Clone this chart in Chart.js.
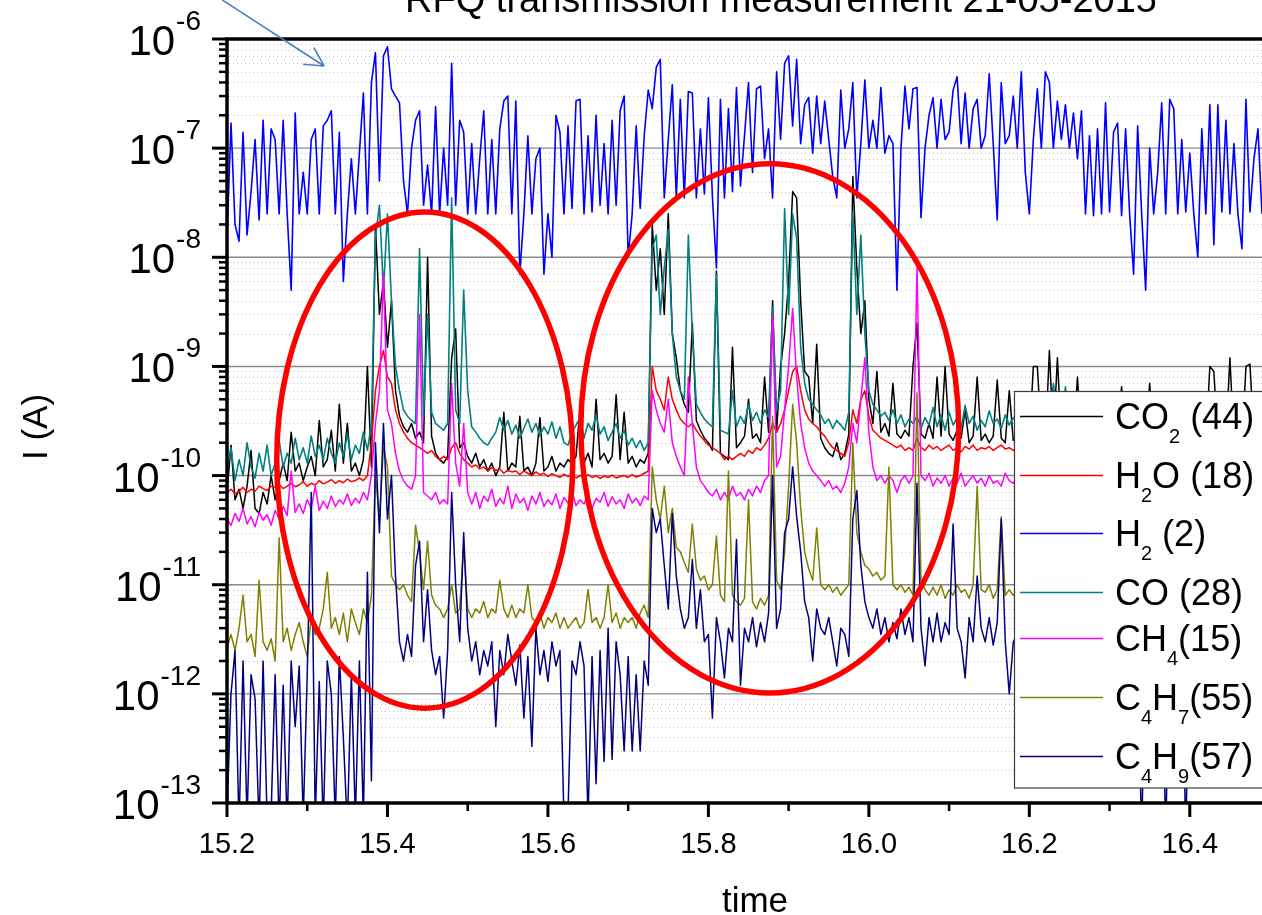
<!DOCTYPE html>
<html><head><meta charset="utf-8">
<script src="https://cdn.jsdelivr.net/npm/chart.js@4.4.1/dist/chart.umd.min.js"></script>
<style>html,body{margin:0;padding:0;background:#fff;overflow:hidden}</style>
</head><body>
<canvas id="c" width="1262" height="915"></canvas>
<script>
const time = [
15.2,15.205,15.21,15.215,15.22,15.225,15.23,15.235,15.24,15.245,
15.25,15.255,15.26,15.265,15.27,15.275,15.28,15.285,15.29,15.295,
15.3,15.305,15.31,15.315,15.32,15.325,15.33,15.335,15.34,15.345,
15.35,15.355,15.36,15.365,15.37,15.375,15.38,15.385,15.39,15.395,
15.4,15.405,15.41,15.415,15.42,15.425,15.43,15.435,15.44,15.445,
15.45,15.455,15.46,15.465,15.47,15.475,15.48,15.485,15.49,15.495,
15.5,15.505,15.51,15.515,15.52,15.525,15.53,15.535,15.54,15.545,
15.55,15.555,15.56,15.565,15.57,15.575,15.58,15.585,15.59,15.595,
15.6,15.605,15.61,15.615,15.62,15.625,15.63,15.635,15.64,15.645,
15.65,15.655,15.66,15.665,15.67,15.675,15.68,15.685,15.69,15.695,
15.7,15.705,15.71,15.715,15.72,15.725,15.73,15.735,15.74,15.745,
15.75,15.755,15.76,15.765,15.77,15.775,15.78,15.785,15.79,15.795,
15.8,15.805,15.81,15.815,15.82,15.825,15.83,15.835,15.84,15.845,
15.85,15.855,15.86,15.865,15.87,15.875,15.88,15.885,15.89,15.895,
15.9,15.905,15.91,15.915,15.92,15.925,15.93,15.935,15.94,15.945,
15.95,15.955,15.96,15.965,15.97,15.975,15.98,15.985,15.99,15.995,
16.0,16.005,16.01,16.015,16.02,16.025,16.03,16.035,16.04,16.045,
16.05,16.055,16.06,16.065,16.07,16.075,16.08,16.085,16.09,16.095,
16.1,16.105,16.11,16.115,16.12,16.125,16.13,16.135,16.14,16.145,
16.15,16.155,16.16,16.165,16.17,16.175,16.18,16.185,16.19,16.195,
16.2,16.205,16.21,16.215,16.22,16.225,16.23,16.235,16.24,16.245,
16.25,16.255,16.26,16.265,16.27,16.275,16.28,16.285,16.29,16.295,
16.3,16.305,16.31,16.315,16.32,16.325,16.33,16.335,16.34,16.345,
16.35,16.355,16.36,16.365,16.37,16.375,16.38,16.385,16.39,16.395,
16.4,16.405,16.41,16.415,16.42,16.425,16.43,16.435,16.44,16.445,
16.45,16.455,16.46,16.465,16.47,16.475,16.48,16.485,16.49
];

const co2 = [
7e-11,1.9e-10,6e-11,7.5e-11,5e-11,8e-11,1.7e-10,5e-11,4.5e-11,7e-11,
5.5e-11,1e-10,6e-11,9e-11,1.3e-10,9e-11,2.5e-10,1.1e-10,1.3e-10,9e-11,
1.2e-10,1.5e-10,1e-10,3.2e-10,1.2e-10,1.4e-10,2.6e-10,1.1e-10,4.5e-10,1.3e-10,
3e-10,1.1e-10,1.3e-10,1e-10,1.4e-10,1e-9,1.2e-10,2e-8,3e-9,6e-9,
1.5e-9,4e-9,6e-10,3.5e-10,2.8e-10,2.5e-10,3e-10,2.2e-10,2.5e-10,2e-10,
1e-8,2.3e-10,1.6e-10,1.4e-10,1.3e-10,1.5e-10,1.2e-9,2.2e-9,1.8e-10,2e-10,
1.5e-10,1.3e-10,1.6e-10,1.2e-10,1.4e-10,1.1e-10,1.3e-10,1e-10,1.2e-10,3.8e-10,
1.1e-10,1.3e-10,1.2e-10,3.5e-10,1.1e-10,1.2e-10,1e-10,1.3e-10,3.4e-10,1.1e-10,
1.2e-10,1.5e-10,1.1e-10,1.3e-10,1.2e-10,1.4e-10,1.3e-10,1.5e-10,4.2e-10,1.3e-10,
1.6e-10,1.2e-10,5e-10,1.4e-10,1.6e-10,1.3e-10,1.5e-10,5.5e-10,1.4e-10,3.8e-10,
1.3e-10,1.5e-10,1.2e-10,1.4e-10,1.3e-10,1.6e-10,2e-8,5e-9,1.2e-8,3e-9,
2.5e-8,2e-9,1.2e-9,6e-10,4.5e-10,3.8e-10,2.5e-9,3.2e-10,2.6e-10,2.2e-10,
2e-10,1.7e-10,7.5e-9,1.6e-10,1.5e-10,1.4e-10,1.5e-9,1.8e-10,2e-10,2.3e-10,
5e-10,2.2e-10,2.4e-10,2e-10,8e-10,2.5e-10,4e-9,2.5e-10,1e-9,2e-9,
6e-9,4e-8,3.5e-8,4e-9,9e-10,8e-10,3e-10,1.6e-9,2.2e-10,1.8e-10,
1.6e-10,1.5e-10,2e-10,1.4e-10,1.6e-10,2.4e-10,5.5e-8,8e-9,2e-9,4e-9,
5e-10,3e-10,9e-10,2.5e-10,3e-10,2.3e-10,7e-10,2.4e-10,2.2e-10,2.6e-10,
2.3e-10,1e-9,2.5e-9,2.4e-10,2.2e-10,3e-10,2.2e-10,8e-10,2.3e-10,1e-9,
2.4e-10,2.1e-10,2.6e-10,2.2e-10,4e-10,2e-10,2.3e-10,8e-10,2.1e-10,2.4e-10,
2e-10,2.3e-10,7.5e-10,2.2e-10,2e-10,6e-10,2.1e-10,2.3e-10,2e-10,2.2e-10,
2.1e-10,1e-9,1e-9,2.3e-10,2e-10,1.4e-9,2.2e-10,1.2e-9,2.1e-10,2.3e-10,
2e-10,2.2e-10,8e-10,2.1e-10,1.9e-10,2.2e-10,2e-10,2.3e-10,2.1e-10,1.9e-10,
2.2e-10,2e-10,2.3e-10,6.5e-10,2.1e-10,2e-10,2.2e-10,1.9e-10,2.1e-10,2.3e-10,
7e-10,2e-10,2.2e-10,2.1e-10,1.9e-10,2.3e-10,2e-10,2.2e-10,2.1e-10,2e-10,
2.2e-10,1.9e-10,2.1e-10,2.3e-10,2e-10,1e-9,9e-10,2.1e-10,2e-10,2.2e-10,
1.2e-9,2e-10,2.1e-10,1.9e-10,1e-9,1.05e-9,2.2e-10,2e-10,2.1e-10
];

const h2o = [
7e-11,7.5e-11,6.8e-11,7.2e-11,7.8e-11,7e-11,7.5e-11,7.2e-11,8e-11,7.6e-11,
7.3e-11,8e-11,7.8e-11,8.3e-11,7.6e-11,8e-11,8.5e-11,7.9e-11,8.2e-11,8.8e-11,
8e-11,8.5e-11,8.2e-11,9e-11,8.4e-11,8.7e-11,9.2e-11,8.5e-11,9e-11,8.6e-11,
9.3e-11,8.8e-11,9e-11,9.5e-11,9e-11,1e-10,2e-10,6e-10,1e-9,1.4e-9,
8e-10,7e-10,4e-10,3e-10,2.5e-10,2.2e-10,2e-10,1.9e-10,1.8e-10,1.7e-10,
1.6e-10,1.7e-10,1.5e-10,1.4e-10,1.5e-10,1.4e-10,1.8e-10,2e-10,1.6e-10,1.4e-10,
1.3e-10,1.2e-10,1.25e-10,1.15e-10,1.2e-10,1.1e-10,1.18e-10,1.12e-10,1.15e-10,1.05e-10,
1.12e-10,1.08e-10,1.1e-10,1.02e-10,1.1e-10,1.05e-10,1e-10,1.08e-10,1.02e-10,1.05e-10,
9.8e-11,1.04e-10,1e-10,9.6e-11,1.03e-10,9.8e-11,1.01e-10,9.5e-11,1e-10,9.7e-11,
1.02e-10,9.6e-11,1e-10,9.4e-11,9.9e-11,9.6e-11,1.01e-10,9.5e-11,9.8e-11,1e-10,
9.6e-11,1.02e-10,9.7e-11,1e-10,1.05e-10,1.1e-10,1e-9,6e-10,5e-10,4e-10,
8e-10,5e-10,4e-10,3.3e-10,3e-10,2.8e-10,3e-10,2.6e-10,2.3e-10,2.1e-10,
1.9e-10,1.8e-10,1.7e-10,1.6e-10,1.4e-10,1.5e-10,1.4e-10,1.5e-10,1.6e-10,1.5e-10,
1.7e-10,1.6e-10,1.8e-10,1.7e-10,1.9e-10,2.2e-10,3e-10,2.5e-10,3e-10,4e-10,
6e-10,9e-10,1e-9,6e-10,4e-10,3.3e-10,3e-10,2.8e-10,2.5e-10,2.3e-10,
2e-10,1.8e-10,1.7e-10,1.6e-10,1.5e-10,2e-10,4e-10,3e-10,5e-10,6e-10,
3.5e-10,2.6e-10,2.4e-10,2.2e-10,2.1e-10,2e-10,1.9e-10,1.8e-10,1.9e-10,1.7e-10,
1.8e-10,1.7e-10,2.2e-10,1.8e-10,1.7e-10,1.9e-10,1.75e-10,1.85e-10,1.7e-10,1.8e-10,
1.9e-10,1.7e-10,1.8e-10,1.65e-10,1.85e-10,1.75e-10,1.9e-10,1.7e-10,1.8e-10,1.75e-10,
1.85e-10,1.7e-10,1.8e-10,1.9e-10,1.75e-10,1.8e-10,1.7e-10,1.85e-10,1.8e-10,1.75e-10,
1.8e-10,1.7e-10,1.85e-10,1.75e-10,1.9e-10,1.7e-10,1.8e-10,1.75e-10,1.85e-10,1.8e-10,
1.7e-10,1.9e-10,1.75e-10,1.8e-10,1.85e-10,1.7e-10,1.8e-10,1.9e-10,1.75e-10,1.8e-10,
1.85e-10,1.75e-10,1.8e-10,1.7e-10,1.9e-10,1.8e-10,1.75e-10,1.85e-10,1.7e-10,1.8e-10,
1.9e-10,1.75e-10,1.8e-10,1.85e-10,1.7e-10,1.8e-10,1.9e-10,1.75e-10,1.8e-10,1.85e-10,
1.75e-10,1.8e-10,1.7e-10,1.85e-10,1.8e-10,1.9e-10,1.75e-10,1.8e-10,1.85e-10,1.7e-10,
1.8e-10,1.9e-10,1.75e-10,1.8e-10,1.85e-10,1.7e-10,1.8e-10,1.75e-10,1.8e-10
];

const h2 = [
1.5e-8,1.7e-7,2e-8,1.4e-8,1.4e-7,1.6e-8,4e-8,1.2e-7,2.2e-8,1.8e-7,
2.5e-8,1.5e-7,1.2e-7,2.5e-8,1.8e-7,2.5e-8,5e-9,2.1e-7,2.5e-8,6e-8,
2.5e-8,1.2e-7,1.5e-7,2.5e-8,1.6e-7,1.8e-7,2.2e-7,2.5e-8,1.4e-7,6e-9,
2.5e-8,8e-8,2.5e-8,9e-8,3.2e-7,2.5e-8,4e-7,7.5e-7,5e-8,7e-7,
8.5e-7,3.5e-7,3e-7,2.6e-7,5e-8,2.5e-8,1e-7,1.8e-7,2.2e-7,3e-8,
7e-8,2.5e-8,2.4e-7,2.5e-8,1e-7,3e-8,6e-7,3e-8,1.8e-7,1.4e-7,
2.5e-8,1.1e-7,2.5e-8,8e-8,2.2e-7,2.5e-8,1.2e-7,2.5e-8,1.5e-7,2.7e-7,
3e-7,2.5e-8,2.7e-7,7e-9,2.5e-8,1.3e-7,2.5e-8,8e-8,1e-7,7e-9,
2.5e-8,1e-8,2e-7,1.4e-7,2.5e-8,1.6e-7,2.8e-8,2.7e-7,2.8e-7,2.5e-8,
1.3e-7,2.6e-8,2e-7,3e-8,1.1e-7,2.5e-8,1.8e-7,3e-8,2.2e-7,3e-7,
1e-8,2.5e-8,1.6e-7,2.8e-8,1.3e-7,3.4e-7,2.3e-7,5.5e-7,6.5e-7,3.5e-8,
1.2e-7,3.8e-7,3.5e-8,2.8e-7,3.5e-8,3.3e-7,3.2e-7,3.5e-8,1.5e-7,3.8e-8,
2.9e-7,3.6e-8,8e-9,2.8e-7,3.5e-8,2.3e-7,4e-8,3.6e-7,4.5e-8,1.3e-7,
4e-7,6e-8,3.5e-7,3.7e-7,8e-8,1.5e-7,3.5e-8,5e-7,1.2e-7,6e-7,
7e-7,1.6e-7,6.5e-7,1.1e-7,2.5e-7,2.9e-7,9e-8,3e-7,1.1e-7,2.7e-7,
1.2e-7,5.5e-8,3.5e-8,3.4e-7,1e-7,1.5e-7,4e-7,3.5e-8,1.1e-7,4.2e-7,
1e-7,1.8e-7,1e-7,3.6e-7,9e-8,1.3e-7,1.1e-7,5e-9,1e-7,3.7e-7,
1.5e-7,3.5e-7,3.6e-7,2.3e-8,1e-7,2e-7,2.9e-7,1e-7,2.8e-7,1.2e-7,
1.4e-7,3.4e-7,4.5e-7,1.1e-7,3.2e-7,1e-7,2.3e-7,2.8e-7,1e-7,1.3e-7,
4.8e-7,1.1e-7,2.2e-8,4e-7,1.1e-7,1.3e-7,3e-7,1e-7,5e-7,6e-8,
2.5e-8,1.2e-7,3.5e-7,1e-7,5e-7,4e-7,1e-7,2.7e-7,1.2e-7,2.5e-7,
1e-7,2.1e-7,8e-8,2.2e-7,2.5e-8,1.3e-7,2.4e-8,1.5e-7,2.5e-8,2.6e-7,
2.6e-8,1.4e-7,1.7e-7,2.4e-8,1.5e-7,2.5e-8,7e-9,1.6e-7,2.5e-8,5e-9,
1e-7,2.5e-8,6e-8,2.6e-7,2.5e-8,2.8e-7,2.3e-7,2.5e-8,1.2e-7,2.6e-8,
9e-8,2.5e-8,1e-8,1.5e-7,2.5e-8,2.5e-7,1.3e-8,2.5e-7,2.6e-8,1.8e-7,
2.5e-8,1.1e-7,2.5e-8,1.2e-8,2.8e-7,2.6e-8,8e-8,1.5e-7,2.5e-8
];

const co = [
1.1e-10,1.8e-10,9e-11,1.4e-10,1e-10,2e-10,1.2e-10,9.5e-11,1.6e-10,1.1e-10,
1.9e-10,1e-10,1.3e-10,2.1e-10,1.2e-10,1.6e-10,1.3e-10,2.2e-10,1.4e-10,1.8e-10,
1.3e-10,2.3e-10,1.5e-10,1.9e-10,1.4e-10,2.2e-10,1.6e-10,1.3e-10,2e-10,1.5e-10,
2.4e-10,1.4e-10,1.9e-10,1.6e-10,2.5e-10,1.7e-10,3e-10,1.5e-8,3e-8,5e-9,
2.5e-8,4e-9,1e-9,6e-10,4e-10,3.5e-10,3.2e-10,3e-10,1.2e-8,3.5e-10,
3e-9,3.8e-10,3e-10,2.8e-10,2.6e-10,3e-10,3.5e-8,4e-10,3e-10,5e-9,
6e-10,2.8e-10,2.5e-10,2.2e-10,2e-10,1.9e-10,2.2e-10,2.5e-10,3.4e-10,2.6e-10,
3.2e-10,2.4e-10,2.9e-10,2.2e-10,2.7e-10,3.3e-10,2.5e-10,3e-10,2.3e-10,2.8e-10,
2.4e-10,3.1e-10,2.2e-10,2.8e-10,2e-10,1.9e-10,2.5e-10,2.9e-10,3.4e-10,2.2e-10,
3e-10,2.6e-10,3.6e-10,2.4e-10,2.8e-10,2.1e-10,2.5e-10,3e-10,2.2e-10,2.6e-10,
1.9e-10,2.2e-10,1.8e-10,2.1e-10,1.7e-10,2e-10,1.2e-8,1.6e-8,3e-9,8e-9,
1.8e-8,2e-9,8e-10,6e-10,5e-10,1.6e-8,2e-9,4.5e-10,3.8e-10,3.3e-10,
3e-10,2.8e-10,7e-9,2.6e-10,2.5e-10,2.4e-10,6e-10,2.8e-10,3.5e-10,3e-10,
4.5e-10,3.2e-10,3.8e-10,3e-10,4e-10,3.4e-10,3.5e-9,4e-10,6e-10,2.8e-8,
3e-9,2.5e-8,1.5e-8,1.5e-9,7e-10,5e-10,4.5e-10,4e-10,3.6e-10,3e-10,
3.3e-10,2.7e-10,3.2e-10,2.9e-10,2.6e-10,3.8e-10,2.6e-8,3e-9,1.6e-8,2e-9,
6e-10,4.5e-10,4e-10,3.5e-10,3.8e-10,3.2e-10,4e-10,3e-10,3.6e-10,2.8e-10,
3.3e-10,3e-10,3.5e-10,2.7e-10,3.4e-10,2.9e-10,4.2e-10,2.8e-10,3.6e-10,2.6e-10,
3.8e-10,2.9e-10,3.4e-10,2.7e-10,4.4e-10,3e-10,3.5e-10,2.6e-10,3.2e-10,2.8e-10,
3.9e-10,3e-10,3.3e-10,2.7e-10,3.6e-10,2.9e-10,3.4e-10,3e-10,3.2e-10,2.8e-10,
3.3e-10,3e-10,3.4e-10,2.9e-10,3.2e-10,3e-10,7e-10,3.1e-10,2.9e-10,6.5e-10,
3e-10,2.7e-10,3.4e-10,2.9e-10,3.2e-10,2.6e-10,3.5e-10,3e-10,2.8e-10,3.3e-10,
2.9e-10,3.4e-10,2.7e-10,3.1e-10,3.6e-10,2.8e-10,3.2e-10,2.6e-10,3.4e-10,3e-10,
3.3e-10,2.8e-10,3.5e-10,2.9e-10,3.1e-10,2.7e-10,3.4e-10,3e-10,3.2e-10,2.8e-10,
3.5e-10,2.9e-10,3.2e-10,2.7e-10,3.3e-10,3e-10,3.6e-10,2.8e-10,3.1e-10,2.9e-10,
3.4e-10,2.7e-10,3.2e-10,3e-10,3.5e-10,2.8e-10,3.3e-10,2.9e-10,3.1e-10
];

const ch4 = [
4e-11,3.5e-11,4.5e-11,3.8e-11,5e-11,3.6e-11,4.2e-11,3.4e-11,4.6e-11,3.9e-11,
4.4e-11,3.5e-11,4.8e-11,4e-11,5.2e-11,4.3e-11,1.1e-10,4.6e-11,5.5e-11,4.5e-11,
6e-11,5e-11,8e-11,4.8e-11,5.8e-11,5e-11,6.5e-11,5.2e-11,6e-11,5.5e-11,
6.8e-11,5.3e-11,6.2e-11,5.6e-11,7e-11,6e-11,1e-10,3e-10,6e-10,7e-9,
4e-10,3e-10,1.6e-10,1.1e-10,9e-11,8e-11,7.5e-11,1e-10,3e-9,7e-11,
6.5e-11,6e-11,7e-11,5.5e-11,6e-11,5.5e-11,7e-10,1.3e-10,8e-11,3e-10,
7e-11,5.5e-11,7e-11,5e-11,6.5e-11,5.8e-11,7.5e-11,5.2e-11,6.2e-11,5.5e-11,
8e-11,5e-11,6.8e-11,5.6e-11,6.2e-11,4.8e-11,6.5e-11,5.5e-11,7e-11,5.2e-11,
6e-11,5.4e-11,6.8e-11,5e-11,6.3e-11,5.6e-11,7.2e-11,5.3e-11,6e-11,5.5e-11,
6.6e-11,5e-11,6.2e-11,5.7e-11,7e-11,5.2e-11,6.4e-11,5.5e-11,6e-11,5e-11,
6.8e-11,5.6e-11,6.2e-11,5.3e-11,6.5e-11,6e-11,6e-10,4e-10,3e-10,2.5e-10,
5e-10,2e-10,1.5e-10,1.2e-10,1e-10,8e-10,3e-10,1.2e-10,9e-11,8e-11,
7e-11,6.5e-11,7.5e-11,6e-11,7e-11,6e-11,8e-11,6.5e-11,7e-11,6e-11,
7.5e-11,6.5e-11,8e-11,7e-11,9e-11,1e-10,3e-9,1.2e-10,1.5e-10,4e-10,
1e-9,3.4e-9,8e-10,3e-10,1.8e-10,1.3e-10,1.1e-10,1e-10,9e-11,8e-11,
9e-11,7.5e-11,8e-11,7e-11,8.5e-11,1.2e-10,3e-10,2e-10,5e-10,1.2e-9,
2.5e-10,1.2e-10,9e-11,1e-10,8.5e-11,1e-10,9e-11,7e-11,9e-11,1e-10,
8.5e-11,1e-10,8e-9,1e-10,9e-11,1.05e-10,8e-11,9.5e-11,8.5e-11,1e-10,
8e-11,9.5e-11,8.5e-11,1.05e-10,8e-11,9e-11,1e-10,8.5e-11,9.5e-11,8e-11,
1e-10,8.5e-11,9e-11,8e-11,1.05e-10,9e-11,8.5e-11,9.5e-11,9e-11,8.5e-11,
9e-11,8e-11,1e-10,8.5e-11,9.5e-11,8e-11,1.05e-10,9e-11,8.5e-11,9.5e-11,
8e-11,1e-10,9e-11,8.5e-11,1.05e-10,8e-11,9.5e-11,9e-11,1e-10,8.5e-11,
9.5e-11,8e-11,1e-10,9e-11,8.5e-11,1.05e-10,8e-11,9.5e-11,9e-11,8.5e-11,
1e-10,8.5e-11,9e-11,8e-11,1.05e-10,9e-11,9.5e-11,8e-11,1e-10,8.5e-11,
9e-11,1e-10,8e-11,9.5e-11,8.5e-11,1e-10,9e-11,8e-11,1.05e-10,9e-11,
8.5e-11,9.5e-11,8e-11,1e-10,9e-11,8.5e-11,1.05e-10,9e-11,8.5e-11
];

const c4h7 = [
2.7e-12,3.5e-12,2.5e-12,4e-12,8e-12,3e-12,3.5e-12,2.2e-12,1.1e-11,3e-12,
2.5e-12,3.2e-12,2e-12,2.7e-11,3e-12,4e-12,2.5e-12,3.5e-12,4.5e-12,3e-12,
2.2e-12,5e-12,3.5e-12,4e-12,6e-12,1.3e-11,4e-12,5e-12,3.5e-12,5.5e-12,
3e-12,6e-12,4.5e-12,3.5e-12,6e-12,4.5e-12,8e-12,1e-10,4e-11,1.8e-10,
1.2e-10,1.2e-11,1e-11,9e-12,1e-11,8e-12,7e-12,3.5e-11,2e-11,9e-12,
2.5e-11,8e-12,6.5e-12,6e-12,5e-12,6e-12,1e-11,5.5e-12,6e-12,2.3e-11,
6e-12,5e-12,6e-12,5.5e-12,7e-12,5e-12,6e-12,5.5e-12,1.1e-11,6e-12,
5e-12,6.5e-12,5e-12,6e-12,5.5e-12,1e-11,5e-12,4.5e-12,5.5e-12,4e-12,
5e-12,4.5e-12,5.5e-12,4e-12,5e-12,4e-12,4.5e-12,5e-12,4e-12,4.5e-12,
9e-12,4.5e-12,5e-12,4e-12,5e-12,1e-11,4.5e-12,5.5e-12,4e-12,5e-12,
4.5e-12,5e-12,4e-12,5.5e-12,6.5e-12,5e-12,1.2e-10,6e-11,4e-11,8e-11,
3e-11,5e-11,2.2e-11,2e-11,1.6e-11,1.3e-11,3.6e-11,1.4e-11,1.1e-11,1.2e-11,
9e-12,1e-11,2.8e-11,8e-12,7e-12,1.1e-10,8e-12,7e-12,6.5e-12,7.5e-12,
6e-11,7e-12,6e-12,7.5e-12,6.5e-12,8e-12,3.5e-10,1.1e-11,9e-12,2e-11,
8e-11,4.5e-10,2e-10,5e-11,2e-11,1.4e-11,1.1e-11,3.3e-11,1e-11,9e-12,
1e-11,8.5e-12,9.5e-12,8e-12,9e-12,1e-11,2e-10,3e-11,2e-11,1.5e-11,
1.4e-11,1.2e-11,1.3e-11,1.1e-11,1.2e-11,1.2e-10,1e-11,9e-12,1e-11,8.5e-12,
9.5e-12,8e-12,5.7e-10,1.1e-11,9e-12,8e-12,9.5e-12,8e-12,1e-11,7.5e-12,
9e-12,8e-12,1e-11,8.5e-12,9e-12,7.5e-12,1e-11,8e-11,9e-12,8.5e-12,
1e-11,7.5e-12,9e-12,4.2e-11,8e-12,9e-12,8e-12,9e-12,8.5e-12,1e-11,
9e-12,1e-11,8e-12,9.5e-12,8.5e-12,1.1e-11,9e-12,8e-12,1e-11,9e-12,
8.5e-12,1e-11,9e-12,8e-12,1.1e-11,9e-12,8.5e-12,1e-11,8e-12,9.5e-12,
9e-12,8e-12,1e-11,9e-12,8.5e-12,1.1e-11,8e-12,9.5e-12,9e-12,1e-11,
8e-12,9.5e-12,9e-12,1.1e-11,8.5e-12,9e-12,1e-11,8e-12,9e-12,8.5e-12,
1e-11,9e-12,8e-12,9.5e-12,1.1e-11,8.5e-12,9e-12,1e-11,8e-12,9e-12,
9.5e-12,8e-12,1e-11,9e-12,8.5e-12,1.1e-11,9e-12,8e-12,9e-12
];

const c4h9 = [
8e-14,1e-12,2.5e-12,6e-14,2e-12,7e-14,1.5e-12,9e-13,6e-14,2e-12,
7e-14,8e-14,1.5e-12,6e-14,1.2e-12,6e-14,2e-12,5e-13,1.8e-12,7e-14,
1.5e-12,7e-11,7e-14,1.3e-12,6e-14,2e-12,1e-12,7e-14,2.2e-12,4e-13,
6e-14,1.5e-12,7e-14,2e-12,7e-14,1.3e-11,1.6e-13,2e-10,3e-11,3e-10,
4e-11,1e-10,1.2e-11,3e-12,2e-12,3.5e-12,2.2e-12,1.5e-11,2.5e-11,3e-12,
9e-12,2.5e-12,1.5e-12,2.2e-12,6e-13,2.5e-12,7e-11,1e-11,3e-12,3e-11,
4e-12,2e-12,3e-12,1.5e-12,2.5e-12,1.8e-12,3e-12,5e-13,2.5e-12,1.5e-12,
3.5e-12,2e-12,1.2e-12,2.8e-12,6e-13,2.2e-12,3.3e-13,4e-12,1.5e-12,2.5e-12,
1.3e-12,3e-12,1.8e-12,2.5e-12,7e-14,8e-14,2e-12,1.5e-12,3e-12,1.8e-12,
7e-14,2.2e-12,1.5e-13,2.5e-12,2.4e-13,4e-12,2.5e-13,3e-12,1.5e-12,3e-13,
2.2e-12,3e-13,1.5e-12,3e-13,2e-12,1.2e-12,5e-11,3e-11,4e-11,1.5e-11,
6e-12,4.5e-11,1.2e-11,6e-12,4e-12,5e-12,1.7e-11,4e-12,9e-12,3e-12,
3.5e-12,6e-13,5e-12,3e-12,1.4e-12,4e-12,3e-12,2.6e-11,1.2e-12,4e-12,
3e-12,5e-12,2.7e-12,4.5e-12,3e-12,5.5e-12,1e-10,4e-12,6e-12,3e-11,
4e-11,1.2e-10,4.2e-11,2e-11,7e-12,5e-12,2e-12,6e-12,4e-12,3.5e-12,
5e-12,3e-12,1.8e-12,4e-12,3.5e-12,2.2e-12,4e-11,7.3e-11,1.5e-11,7e-12,
5e-12,4e-12,6e-12,3.5e-12,5e-12,3e-12,4.5e-12,3.2e-12,6e-12,3.5e-12,
5e-12,3e-12,8.5e-11,4e-12,1.8e-12,5e-12,3e-12,5.5e-12,3e-12,4.5e-12,
3.5e-12,3.6e-11,4e-12,3e-12,1.4e-12,5e-12,3e-12,1.2e-11,4e-12,3e-12,
5e-12,2.8e-12,4.5e-12,4e-11,3e-12,1e-12,3e-12,3.5e-12,4e-12,3e-12,
3e-12,4.5e-12,2.5e-12,4e-12,3e-12,5e-12,2.8e-12,3.5e-12,2e-12,4e-12,
3e-12,2.5e-12,4.5e-12,3e-12,1.5e-12,4e-12,3e-12,5e-12,2.5e-12,3.5e-12,
4e-12,2.5e-12,3.5e-12,3e-12,1.8e-12,4e-12,3e-12,2.5e-12,5e-14,3e-12,
4e-12,2.5e-12,3.5e-12,3e-12,5e-14,3e-12,4e-12,2e-12,3e-12,5e-14,
3.5e-12,2.5e-12,4e-12,3e-12,2e-12,4.5e-12,3e-12,2.5e-12,3.5e-12,3e-12,
2.5e-12,4e-12,3e-12,2e-12,3.5e-12,3e-12,4.5e-12,2.5e-12,3e-12
];

const seriesNames = ['CO2 (44)','H2O (18)','H2 (2)','CO (28)','CH4(15)','C4H7(55)','C4H9(57)'];
const seriesValues = [co2, h2o, h2, co, ch4, c4h7, c4h9];
const seriesColors = ['#000000','#ff0000','#0000ff','#008080','#ff00ff','#808000','#000080'];
const seriesWidths = [1.5,1.5,1.6,1.6,1.5,1.5,1.5];
const legendParts = [
  [['CO',0],['2',1],[' (44)',0]],
  [['H',0],['2',1],['O (18)',0]],
  [['H',0],['2',1],[' (2)',0]],
  [['CO (28)',0]],
  [['CH',0],['4',1],['(15)',0]],
  [['C',0],['4',1],['H',0],['7',1],['(55)',0]],
  [['C',0],['4',1],['H',0],['9',1],['(57)',0]]
];
const xMajorTicks = [15.2,15.4,15.6,15.8,16.0,16.2,16.4];
const xMinorTicks = [15.3,15.5,15.7,15.9,16.1,16.3];
const yDecades = [-13,-12,-11,-10,-9,-8,-7,-6];
const highlightRegions = [
  {t0:15.262, t1:15.631, lo:7.4e-13, hi:2.6e-8},
  {t0:15.641, t1:16.112, lo:1.02e-12, hi:7.2e-8}
];
const arrowFrom = {t:15.194, v:2.28e-6};
const arrowTo = {t:15.321, v:5.66e-7};
const titleText = 'RFQ transmission measurement 21-05-2015';

const FONT = '"Liberation Sans", Arial, Helvetica, sans-serif';

function seg(ctx, x1, y1, x2, y2){ ctx.beginPath(); ctx.moveTo(x1,y1); ctx.lineTo(x2,y2); ctx.stroke(); }

const decorations = {
  id: 'decorations',
  beforeDatasetsDraw(chart) {
    const {ctx, chartArea: a, scales: {y}} = chart;
    ctx.save();
    ctx.lineWidth = 1;
    ctx.strokeStyle = '#c2c2c2';
    ctx.setLineDash([1, 3]);
    for (let k = 0; k < yDecades.length - 1; k++) {
      for (let m = 2; m <= 9; m++) {
        const py = Math.round(y.getPixelForValue(m * Math.pow(10, yDecades[k]))) + 0.5;
        seg(ctx, a.left + 2, py, a.right, py);
      }
    }
    ctx.setLineDash([]);
    ctx.strokeStyle = '#8a8a8a';
    ctx.lineWidth = 1.4;
    for (let k = 1; k < yDecades.length - 1; k++) {
      const py = y.getPixelForValue(Math.pow(10, yDecades[k]));
      seg(ctx, a.left, py, a.right, py);
    }
    ctx.restore();
  },
  afterDatasetsDraw(chart) {
    const {ctx, chartArea: a, scales: {x, y}} = chart;
    ctx.save();
    ctx.strokeStyle = '#ff0000';
    ctx.lineWidth = 5.5;
    for (const e of highlightRegions) {
      const l = x.getPixelForValue(e.t0), r = x.getPixelForValue(e.t1);
      const t = y.getPixelForValue(e.hi), b = y.getPixelForValue(e.lo);
      ctx.beginPath();
      ctx.ellipse((l + r) / 2, (t + b) / 2, (r - l) / 2, (b - t) / 2, 0, 0, Math.PI * 2);
      ctx.stroke();
    }
    const lx = 1014, ly = 391;
    ctx.fillStyle = '#ffffff';
    ctx.fillRect(lx, ly, 300, 397);
    ctx.strokeStyle = '#3c3c3c';
    ctx.lineWidth = 1.2;
    ctx.strokeRect(lx + 0.5, ly + 0.5, 300, 396.5);
    const rowY = [416, 475, 533, 592, 638, 697, 756];
    ctx.textAlign = 'left';
    ctx.textBaseline = 'alphabetic';
    for (let i = 0; i < legendParts.length; i++) {
      ctx.strokeStyle = seriesColors[i];
      ctx.lineWidth = 1.6;
      seg(ctx, 1020, rowY[i] + 0.5, 1103, rowY[i] + 0.5);
      let tx = 1115;
      const base = rowY[i] + 12.5;
      ctx.fillStyle = '#000';
      for (const [txt, sub] of legendParts[i]) {
        ctx.font = sub ? '20px ' + FONT : '36px ' + FONT;
        ctx.fillText(txt, tx, sub ? base + 14 : base);
        tx += ctx.measureText(txt).width;
      }
    }
    ctx.strokeStyle = '#000';
    ctx.lineWidth = 3.5;
    seg(ctx, a.left - 1.7, a.top, a.right, a.top);
    seg(ctx, a.left, a.top, a.left, a.bottom);
    seg(ctx, a.left - 1.7, a.bottom, a.right, a.bottom);
    ctx.lineWidth = 3;
    for (let k = 0; k < yDecades.length; k++) {
      const py = y.getPixelForValue(Math.pow(10, yDecades[k]));
      seg(ctx, a.left - 15, py, a.left, py);
      if (k < yDecades.length - 1) {
        ctx.lineWidth = 2.5;
        for (let m = 2; m <= 9; m++) {
          const pm = y.getPixelForValue(m * Math.pow(10, yDecades[k]));
          seg(ctx, a.left - 8, pm, a.left, pm);
        }
        ctx.lineWidth = 3;
      }
    }
    for (const v of xMajorTicks) {
      const px = x.getPixelForValue(v);
      seg(ctx, px, a.bottom, px, a.bottom + 14);
    }
    ctx.lineWidth = 2.5;
    for (const v of xMinorTicks) {
      const px = x.getPixelForValue(v);
      seg(ctx, px, a.bottom, px, a.bottom + 8);
    }
    ctx.fillStyle = '#000';
    ctx.textAlign = 'left';
    for (const e of yDecades) {
      const py = y.getPixelForValue(Math.pow(10, e));
      const sup = '-' + Math.abs(e);
      ctx.font = '42px ' + FONT;
      const w10 = ctx.measureText('10').width;
      ctx.font = '28px ' + FONT;
      const ws = ctx.measureText(sup).width;
      const x0 = 201 - w10 - ws - 1;
      ctx.font = '42px ' + FONT;
      ctx.fillText('10', x0, py + 16);
      ctx.font = '28px ' + FONT;
      ctx.fillText(sup, x0 + w10 + 1, py - 9);
    }
    ctx.font = '29px ' + FONT;
    ctx.textAlign = 'center';
    for (const v of xMajorTicks) {
      ctx.fillText(v.toFixed(1), x.getPixelForValue(v), a.bottom + 50);
    }
    ctx.font = '35px ' + FONT;
    ctx.fillText('time', 755, 912);
    ctx.save();
    ctx.translate(37, 427);
    ctx.rotate(-Math.PI / 2);
    ctx.textBaseline = 'middle';
    ctx.fillText('I (A)', 0, 0);
    ctx.restore();
    ctx.font = '38px ' + FONT;
    ctx.textAlign = 'center';
    ctx.fillText(titleText, 781, 12);
    const x1 = x.getPixelForValue(arrowFrom.t), y1 = y.getPixelForValue(arrowFrom.v);
    const x2 = x.getPixelForValue(arrowTo.t), y2 = y.getPixelForValue(arrowTo.v);
    ctx.strokeStyle = '#4a7ebb';
    ctx.lineWidth = 1.6;
    seg(ctx, x1, y1, x2, y2);
    const ang = Math.atan2(y2 - y1, x2 - x1) + Math.PI;
    for (const d of [-0.49, 0.49]) {
      seg(ctx, x2, y2, x2 + 21 * Math.cos(ang + d), y2 + 21 * Math.sin(ang + d));
    }
    ctx.restore();
  }
};

const datasets = seriesValues.map((vals, idx) => ({
  label: seriesNames[idx],
  data: time.map((t, i) => ({x: t, y: vals[i]})),
  borderColor: seriesColors[idx],
  backgroundColor: seriesColors[idx],
  borderWidth: seriesWidths[idx],
  borderJoinStyle: 'round',
  pointRadius: 0,
  fill: false,
  tension: 0,
  order: seriesValues.length - idx
}));

new Chart(document.getElementById('c').getContext('2d'), {
  type: 'line',
  data: {datasets},
  options: {
    responsive: false,
    animation: false,
    events: [],
    layout: {padding: {left: 227, top: 39, right: 0, bottom: 112}},
    plugins: {legend: {display: false}, tooltip: {enabled: false}, title: {display: false}},
    scales: {
      x: {type: 'linear', min: 15.2, max: 16.49, display: false},
      y: {type: 'logarithmic', min: 1e-13, max: 1e-6, display: false}
    }
  },
  plugins: [decorations]
});
</script>
</body></html>
